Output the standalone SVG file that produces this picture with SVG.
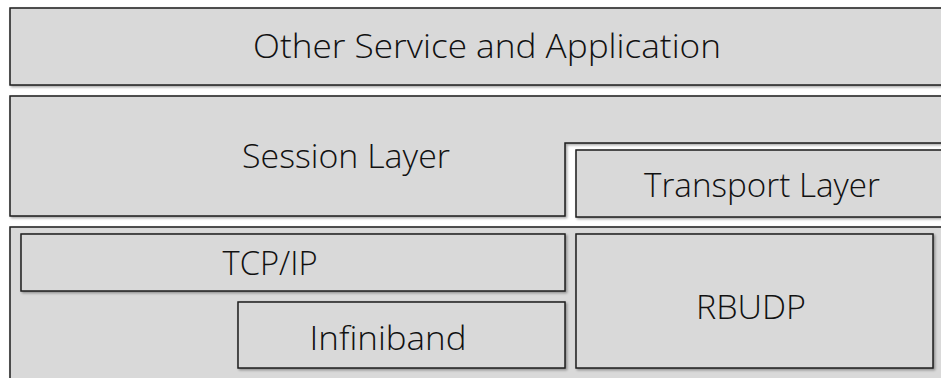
<svg xmlns="http://www.w3.org/2000/svg" width="941" height="378" viewBox="0 0 941 378">
<style>
.box{fill:#d9d9d9;stroke:#1e1e1e;stroke-width:1.5;filter:url(#sh)}
.lbl{font-family:"Open Sans","Noto Sans","Liberation Sans",sans-serif;font-size:33px;font-weight:300;fill:#111;text-anchor:middle}
</style>
<defs>
<filter id="sh" x="-5%" y="-5%" width="110%" height="115%">
<feDropShadow dx="1.5" dy="1.5" stdDeviation="1.2" flood-color="#000" flood-opacity="0.35"/>
</filter>
</defs>
<rect x="0" y="0" width="941" height="378" fill="#ffffff"/>
<g id="app">
<rect class="box" x="10" y="8" width="940" height="77"/>
<text class="lbl" x="487" y="58" textLength="468" lengthAdjust="spacingAndGlyphs">Other Service and Application</text>
</g>
<g id="session">
<polygon class="box" points="10,96 950,96 950,143 565,143 565,216 10,216"/>
<text class="lbl" x="346" y="168" textLength="208" lengthAdjust="spacingAndGlyphs">Session Layer</text>
</g>
<g id="transport">
<rect class="box" x="576" y="150" width="374" height="67"/>
<text class="lbl" x="762" y="197" textLength="236" lengthAdjust="spacingAndGlyphs">Transport Layer</text>
</g>
<g id="network">
<rect class="box" x="10" y="227" width="940" height="160"/>
</g>
<g id="tcpip">
<rect class="box" x="21" y="234" width="544" height="57"/>
<text class="lbl" x="270" y="275" textLength="95" lengthAdjust="spacingAndGlyphs">TCP/IP</text>
</g>
<g id="infiniband">
<rect class="box" x="238" y="302" width="327" height="66"/>
<text class="lbl" x="388" y="350" textLength="157" lengthAdjust="spacingAndGlyphs">Infiniband</text>
</g>
<g id="rbudp">
<rect class="box" x="576" y="234" width="357" height="134"/>
<text class="lbl" x="751" y="319" textLength="110" lengthAdjust="spacingAndGlyphs">RBUDP</text>
</g>
<g id="connectors"></g>
</svg>
